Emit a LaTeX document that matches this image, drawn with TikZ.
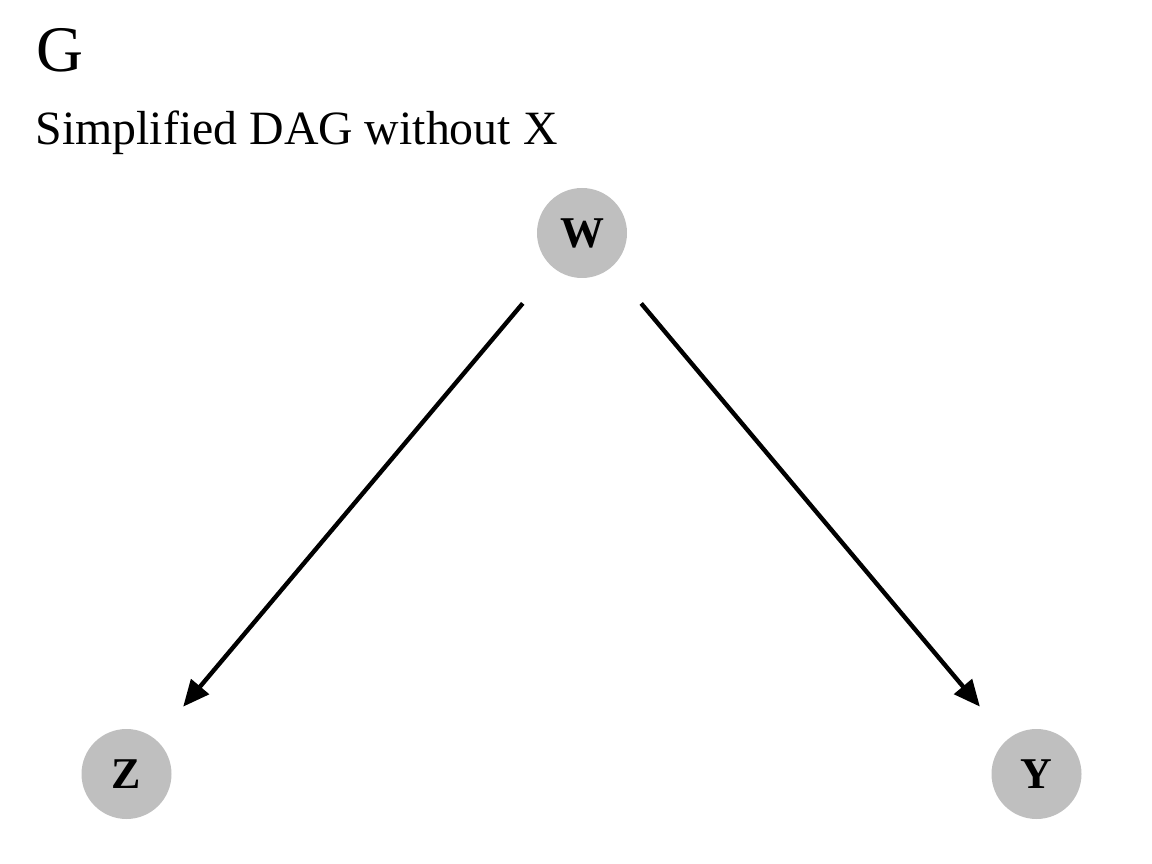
\documentclass[tikz,border=0pt]{standalone}
\usepackage{fontspec}
\setmainfont{Liberation Serif}
\usetikzlibrary{arrows.meta}

\tikzset{
  var/.style={circle, fill=black!25, minimum size=0.9cm, inner sep=0pt, outer sep=0pt, font=\fontsize{12.5}{14}\selectfont\bfseries},
  edge/.style={line width=1.25pt, -{Triangle[length=7.5pt,width=6.5pt]}, shorten <=0.47cm, shorten >=0.43cm}
}

\begin{document}
\begin{tikzpicture}
\useasboundingbox (0,0) rectangle (11.52,-8.64);

\node[anchor=base west, inner sep=0pt, font=\fontsize{18.5}{20}\selectfont] (tag) at(0.36,-0.72){G};
\node[anchor=base west, inner sep=0pt, font=\fontsize{13.6}{16}\selectfont] (title) at(0.35,-1.45){Simplified DAG without X};

\node[var] (W) at(5.82,-2.33){W};
\node[var] (Z) at(1.265,-7.74){Z};
\node[var] (Y) at(10.365,-7.74){Y};

\draw[edge] (W) -- (Z);
\draw[edge] (W) -- (Y);

\end{tikzpicture}
\end{document}
